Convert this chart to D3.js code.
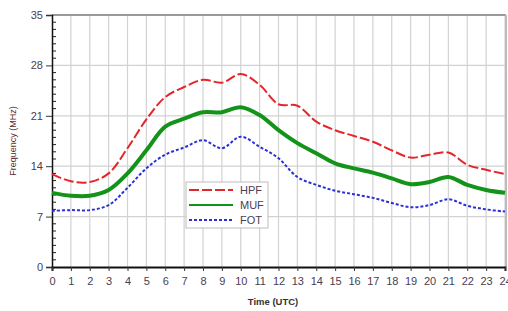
<!DOCTYPE html>
<html>
<head>
<meta charset="utf-8">
<script src="https://cdn.jsdelivr.net/npm/d3@7"></script>
<style>
  body { margin: 0; background: #fff; }
  svg { font-family: "Liberation Sans", Arial, sans-serif; }
</style>
</head>
<body>
<div id="chart"></div>
<script>
// hours (UTC) and the three frequency curves (MHz)
var hours = d3.range(0, 25);
var hpf = [12.9, 11.9, 11.8, 13.0, 16.5, 20.5, 23.6, 25.0, 26.0, 25.6, 26.8, 25.3, 22.6, 22.4, 20.2, 19.0, 18.2, 17.4, 16.2, 15.2, 15.6, 15.9, 14.2, 13.5, 12.9];
var muf = [10.3, 9.9, 9.9, 10.7, 13.0, 16.2, 19.5, 20.6, 21.5, 21.5, 22.2, 21.1, 19.0, 17.2, 15.8, 14.4, 13.7, 13.1, 12.3, 11.5, 11.8, 12.5, 11.4, 10.7, 10.3];
var fot = [7.8, 7.9, 7.9, 8.6, 11.0, 13.7, 15.6, 16.6, 17.6, 16.5, 18.1, 16.7, 15.1, 12.5, 11.4, 10.6, 10.1, 9.6, 8.9, 8.3, 8.6, 9.4, 8.5, 8.0, 7.7];
var yTicks = [0, 7, 14, 21, 28, 35];

var series = [
    { name: "HPF", values: hpf, color: "#e3262a", width: 2, dash: "10,3" },
    { name: "MUF", values: muf, color: "#13931a", width: 4, dash: null },
    { name: "FOT", values: fot, color: "#2b2fd6", width: 2, dash: "3,2" }
];

var W = 508, H = 311;
//plot area edges (pixels)
var plotLeft = 52, plotRight = 505, plotTop = 15, plotBottom = 267;

var svg = d3.select("#chart").append("svg")
    .attr("width", W)
    .attr("height", H);

var x = d3.scaleLinear().domain([0, 24]).range([plotLeft, plotRight]);
var y = d3.scaleLinear().domain([0, 35]).range([plotBottom, plotTop]);

//grid lines
svg.append("g")
    .selectAll("line")
    .data(hours.slice(1))
    .enter().append("line")
    .attr("x1", function (d) { return x(d); })
    .attr("x2", function (d) { return x(d); })
    .attr("y1", plotTop)
    .attr("y2", plotBottom)
    .style("stroke", "#d2d2d2")
    .style("stroke-width", 1.2);

svg.append("g")
    .selectAll("line")
    .data(yTicks.slice(1, -1))
    .enter().append("line")
    .attr("x1", plotLeft)
    .attr("x2", plotRight)
    .attr("y1", function (d) { return y(d); })
    .attr("y2", function (d) { return y(d); })
    .style("stroke", "#d2d2d2")
    .style("stroke-width", 1.2);

//top and right frame
svg.append("line")
    .attr("x1", plotLeft).attr("x2", plotRight + 1)
    .attr("y1", plotTop).attr("y2", plotTop)
    .style("stroke", "#999").style("stroke-width", 2);
svg.append("line")
    .attr("x1", plotRight + 1).attr("x2", plotRight + 1)
    .attr("y1", plotTop).attr("y2", plotBottom)
    .style("stroke", "#bbb").style("stroke-width", 2);

//y axis minor ticks (every 1 MHz, pointing inside)
svg.append("g")
    .selectAll("line")
    .data(d3.range(0, 36).filter(function (d) { return d % 7 !== 0; }))
    .enter().append("line")
    .attr("x1", plotLeft)
    .attr("x2", plotLeft + 4)
    .attr("y1", function (d) { return y(d); })
    .attr("y2", function (d) { return y(d); })
    .style("stroke", "#222");

//y axis
var yAxis = svg.append("g")
    .attr("transform", "translate(" + plotLeft + ",0)")
    .call(d3.axisLeft(y).tickValues(yTicks).tickSize(6).tickPadding(3));
yAxis.select(".domain").style("stroke", "#111").style("stroke-width", 1.5);

//x axis
var xAxis = svg.append("g")
    .attr("transform", "translate(0," + plotBottom + ")")
    .call(d3.axisBottom(x).tickValues(hours).tickSize(4).tickPadding(6));
xAxis.select(".domain").style("stroke", "#111").style("stroke-width", 2);

svg.selectAll(".tick text")
    .style("font-size", "11px")
    .style("fill", "#4a4052");
svg.selectAll(".tick line").style("stroke", "#333");

//axis titles
svg.append("text")
    .text("Time (UTC)")
    .attr("x", 273)
    .attr("y", 305)
    .style("font-size", "9.5px")
    .style("font-weight", "bold")
    .style("fill", "#333")
    .style("text-anchor", "middle");

svg.append("text")
    .text("Frequency (MHz)")
    .attr("transform", "translate(16,141) rotate(-90)")
    .style("font-size", "9px")
    .style("fill", "#5a2c2c")
    .style("text-anchor", "middle");

//curves
var line = d3.line()
    .x(function (d, i) { return x(hours[i]); })
    .y(function (d) { return y(d); })
    .curve(d3.curveCatmullRom.alpha(0.5));

series.forEach(function (s) {
    svg.append("path")
        .datum(s.values)
        .attr("d", line)
        .style("fill", "none")
        .style("stroke", s.color)
        .style("stroke-width", s.width)
        .style("stroke-dasharray", s.dash);
});

//legend
var legend = svg.append("g");
legend.append("rect")
    .attr("x", 186).attr("y", 182)
    .attr("width", 82).attr("height", 46)
    .style("fill", "#fff")
    .style("stroke", "#bdbdbd");

series.forEach(function (s, i) {
    var ly = 190 + i * 15;
    legend.append("line")
        .attr("x1", 189).attr("x2", 233)
        .attr("y1", ly).attr("y2", ly)
        .style("stroke", s.color)
        .style("stroke-width", 2)
        .style("stroke-dasharray", s.dash);
    legend.append("text")
        .text(s.name)
        .attr("x", 240)
        .attr("y", ly + 4)
        .style("font-size", "11px")
        .style("fill", "#4a4052");
});
</script>
</body>
</html>
